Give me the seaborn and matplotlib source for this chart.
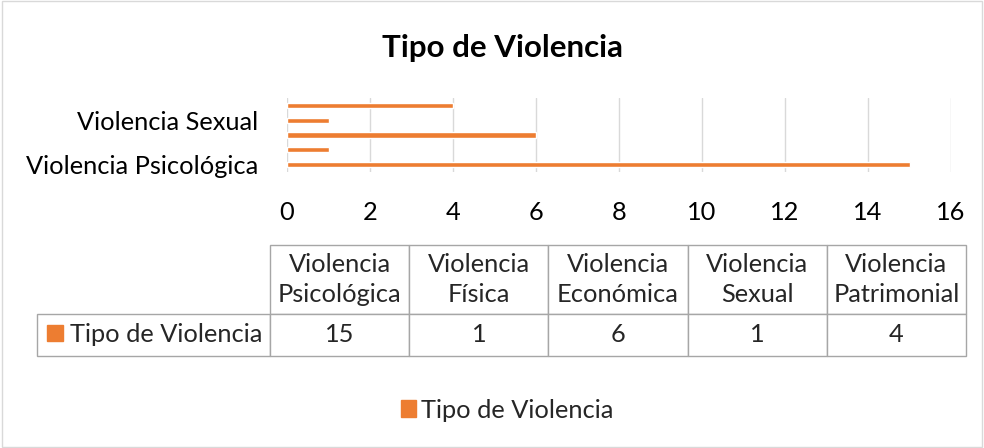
import matplotlib.pyplot as plt
import seaborn as sns
import pandas as pd
from matplotlib.patches import Rectangle, Patch

# Datos
categorias = ['Violencia Psicológica', 'Violencia Física', 'Violencia Económica',
              'Violencia Sexual', 'Violencia Patrimonial']
valores = [15, 1, 6, 1, 4]
serie = 'Tipo de Violencia'
encabezados = ['Violencia\nPsicológica', 'Violencia\nFísica', 'Violencia\nEconómica',
               'Violencia\nSexual', 'Violencia\nPatrimonial']
etiquetas_visibles = ['Violencia Psicológica', 'Violencia Sexual']
ticks_x = [0, 2, 4, 6, 8, 10, 12, 14, 16]

naranja = '#ED7D31'
gris = '#d9d9d9'
fs = 18.3

sns.set_theme(style='white')
plt.rcParams['font.family'] = ['Lato', 'DejaVu Sans']

W, H = 984, 448
fig = plt.figure(figsize=(W / 100, H / 100), dpi=100)

# Barras (orden de Excel: primera categoría abajo)
orden = categorias[::-1]
df = pd.DataFrame({'cat': categorias, 'val': valores})
ax = fig.add_axes([287 / W, 1 - 172 / H, (951 - 287) / W, (172 - 98) / H])
sns.barplot(data=df, y='cat', x='val', order=orden, color=naranja,
            saturation=1, width=0.36, ax=ax)
ax.set_xlim(0, 16)
ax.set_xticks(ticks_x)
ax.grid(axis='x', color=gris, linewidth=1)
ax.set_axisbelow(True)
for s in ax.spines.values():
    s.set_visible(False)
ax.set_xlabel('')
ax.set_ylabel('')
ax.tick_params(axis='x', length=0, pad=21, labelsize=fs, labelcolor='black')
ax.tick_params(axis='y', length=0, pad=21, labelsize=fs, labelcolor='black')
# Excel solo muestra algunas etiquetas del eje
ax.set_yticks(range(len(orden)))
ax.set_yticklabels([c if c in etiquetas_visibles else '' for c in orden])

# Título
fig.text(502 / W, 1 - 48 / H, serie, ha='center', va='center', fontsize=22.5,
         fontweight='bold', color='black')

# Tabla de datos
t_top, t_bot = 245, 356
tw, th = 966 - 37, t_bot - t_top
ax_t = fig.add_axes([37 / W, 1 - t_bot / H, tw / W, th / H])
ax_t.axis('off')
celdas = [[''] + encabezados, [serie] + [str(v) for v in valores]]
tabla = ax_t.table(cellText=celdas, bbox=[0, 0, 1, 1], cellLoc='center')
tabla.auto_set_font_size(False)
anchos = [233] + [139.2] * len(valores)
for (r, c), cell in tabla.get_celld().items():
    cell.set_width(anchos[c])
    cell.set_height(69 if r == 0 else 42)
    cell.set_edgecolor('#a6a6a6')
    cell.set_linewidth(1)
    cell.get_text().set_fontsize(fs)
    cell.get_text().set_linespacing(1.32)
    if r == 0 and c == 0:
        cell.visible_edges = ''
    if r == 1 and c == 0:
        cell._loc = 'left'
        cell.get_text().set_ha('left')
        cell.PAD = 33 / 233
ax_t.add_patch(Rectangle((10 / tw, (t_bot - 341) / th), 16 / tw, 16 / th,
                         transform=ax_t.transAxes, color=naranja, clip_on=False))

# Leyenda
fig.legend(handles=[Patch(color=naranja, label=serie)], loc='center',
           bbox_to_anchor=(507 / W, 1 - 410 / H), frameon=False, fontsize=fs,
           handlelength=0.6, handleheight=0.6, handletextpad=0.2)

# Borde del gráfico
fig.patches.append(Rectangle((0.002, 0.003), 0.996, 0.994, transform=fig.transFigure,
                             fill=False, edgecolor=gris, linewidth=1))

fig.savefig('out.png', dpi=100)
